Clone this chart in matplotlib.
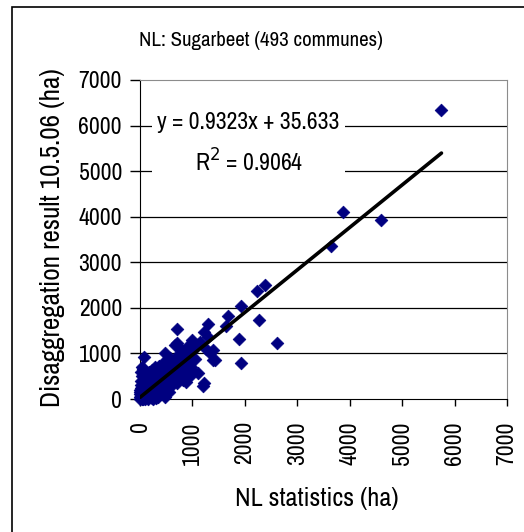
import numpy as np
import matplotlib
matplotlib.use("Agg")
import matplotlib.pyplot as plt
from matplotlib.patches import Rectangle

plt.rcParams['font.family'] = ['Archivo Narrow', 'DejaVu Sans']
plt.rcParams['font.weight'] = 'medium'

TITLE = "NL: Sugarbeet (493 communes)"
XLABEL = "NL statistics (ha)"
YLABEL = "Disaggregation result 10.5.06 (ha)"
SLOPE, INTERCEPT, R2 = 0.9323, 35.633, 0.9064
TICKS = [0, 1000, 2000, 3000, 4000, 5000, 6000, 7000]

# dense cluster near origin (estimated by eye)
blob_x = [10, 20, 30, 40, 50, 60, 70, 80, 90, 100, 110, 120, 130, 140, 150, 160, 170, 180, 190, 200,
          210, 220, 230, 240, 250, 260, 270, 280, 290, 300, 15, 25, 35, 45, 55, 20, 40, 80, 100, 60,
          120, 150, 180, 200, 220, 250, 280, 300, 320, 340, 350, 370, 390, 400, 420, 440, 460, 480, 500, 520,
          550, 580, 600, 620, 650, 680, 700, 720, 750, 780, 800, 820, 850, 880, 900, 950, 980, 1000, 1050, 1100,
          320, 380, 450, 500, 550, 600, 650, 700, 760, 820, 880, 950, 1000, 400, 480, 350, 420, 560, 300, 250,
          150, 100, 60, 0, 5, 0, 10, 5, 0, 30]
blob_y = [20, 60, 10, 120, 40, 200, 80, 30, 150, 260, 90, 50, 180, 320, 120, 60, 230, 400, 160, 100,
          280, 30, 200, 350, 140, 450, 260, 80, 330, 200, 300, 400, 250, 500, 350, 600, 700, 550, 480, 650,
          400, 520, 600, 480, 640, 560, 700, 420, 600, 500, 300, 720, 450, 600, 380, 800, 520, 680, 420, 760,
          600, 900, 500, 700, 820, 620, 950, 560, 780, 880, 660, 1000, 740, 560, 860, 950, 700, 1050, 880, 560,
          150, 250, 300, 200, 350, 280, 420, 360, 480, 420, 380, 500, 620, 100, 50, 40, 180, 150, 20, 10,
          0, 10, 0, 50, 100, 200, 250, 150, 0, 30]

# scattered communes outside the cluster
out_x = [76, 477, 668, 800, 1336, 1431, 1221, 1050, 1088, 1298, 1221, 706, 706, 1393, 1393, 1150, 1000, 900,
         1250, 1300, 1202, 1927, 1679, 1641, 2271, 1889, 2614, 1927, 2385, 2233, 3645, 3874, 4600, 5750]
out_y = [919, 1006, 1182, 1072, 1006, 853, 350, 1182, 1182, 1641, 1466, 1532, 1225, 1072, 853, 1250, 1300, 1150,
         1100, 1350, 284, 2035, 1816, 1597, 1729, 1313, 1225, 788, 2495, 2363, 3348, 4114, 3917, 6350]

x = np.array(blob_x + out_x)
y = np.array(blob_y + out_y)

fig = plt.figure(figsize=(5.24, 5.32), dpi=100)
ax = fig.add_axes([140/524, 1 - 399/532, 367/524, 319/532])

ax.scatter(x, y, marker="D", s=42, color="#000080", edgecolors="#000080", linewidths=0.5, zorder=3, clip_on=False)
xl = np.array([0, x.max()])
ax.plot(xl, SLOPE*xl + INTERCEPT, color="black", lw=2.6, zorder=4, solid_capstyle="round")

ax.set_xlim(0, 7000); ax.set_ylim(0, 7000)
ax.set_xticks(TICKS); ax.set_yticks(TICKS)
ax.set_xticklabels([str(t) for t in TICKS], rotation=90, fontsize=17, va="top")
ax.set_yticklabels([str(t) for t in TICKS], fontsize=17)
ax.tick_params(axis="x", direction="out", length=5, width=1, pad=11)
ax.tick_params(axis="y", direction="out", length=7, width=1, pad=6)
for t in TICKS[1:-1]:
    ax.axhline(t, color="black", lw=0.9, zorder=1)
for s in ["top", "right"]:
    ax.spines[s].set_color("#8c8c8c")
for s in ["left", "bottom"]:
    ax.spines[s].set_color("black")

# white box behind the trendline equation
ax.add_patch(Rectangle((230, 4800), 3680, 1740, facecolor="white", edgecolor="none", zorder=2))
ax.text(2060, 6060, f"y = {SLOPE}x + {INTERCEPT}", fontsize=17, ha="center", va="center", zorder=5)
ax.text(2080, 5200, f"R$^2$ = {R2}", fontsize=17, ha="center", va="center", zorder=5)

fig.text(261/524, 1 - 41/532, TITLE, fontsize=15, ha="center", va="center")
fig.text(317/524, 1 - 498/532, XLABEL, fontsize=19, ha="center", va="center")
fig.text(53/524, 1 - 238/532, YLABEL, fontsize=19.5, ha="center", va="center", rotation=90)

fig.patches.append(Rectangle((12/524, -0.1), 1.2, 0.1 + 1 - 7/532, transform=fig.transFigure,
                             fill=False, edgecolor="black", lw=1.2))

fig.savefig("out.png", dpi=100)
